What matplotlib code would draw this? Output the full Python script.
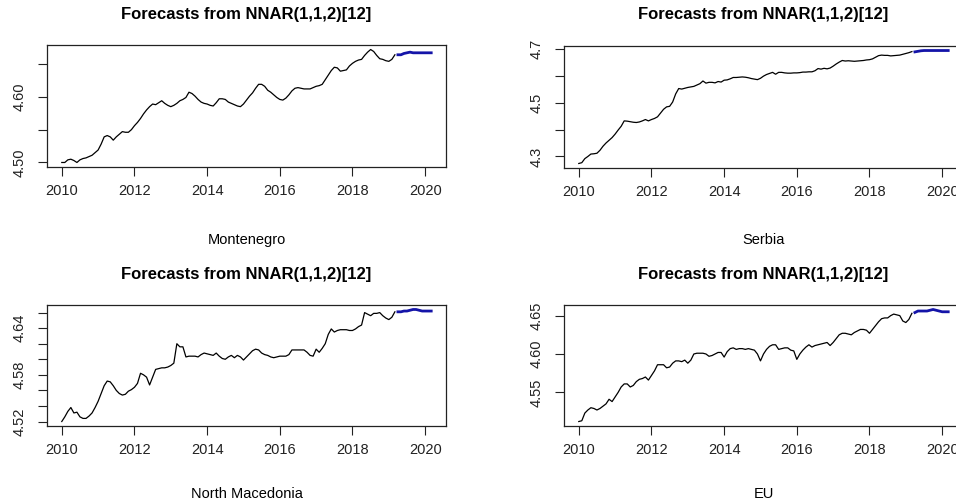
import numpy as np
import matplotlib
matplotlib.use("Agg")
import matplotlib.pyplot as plt

plt.rcParams['font.family'] = ['Liberation Sans', 'DejaVu Sans']

# monthly series, Jan 2010 - Mar 2019, then 12 month forecast
start_year = 2010
freq = 12
title = "Forecasts from NNAR(1,1,2)[12]"
countries = ["Montenegro", "Serbia", "North Macedonia", "EU"]

montenegro = [
    4.500, 4.500, 4.504, 4.505, 4.503, 4.500, 4.504, 4.506, 4.507, 4.509, 4.511, 4.515,
    4.519, 4.528, 4.539, 4.541, 4.539, 4.534, 4.539, 4.543, 4.547, 4.546, 4.546, 4.550,
    4.556, 4.561, 4.567, 4.574, 4.580, 4.585, 4.589, 4.588, 4.591, 4.594, 4.590, 4.587,
    4.585, 4.587, 4.590, 4.594, 4.596, 4.599, 4.607, 4.605, 4.601, 4.596, 4.592, 4.590,
    4.589, 4.587, 4.586, 4.591, 4.597, 4.597, 4.596, 4.592, 4.590, 4.588, 4.586, 4.585,
    4.589, 4.595, 4.601, 4.606, 4.613, 4.619, 4.619, 4.616, 4.610, 4.607, 4.603, 4.599,
    4.596, 4.595, 4.598, 4.603, 4.609, 4.613, 4.614, 4.613, 4.612, 4.612, 4.612, 4.614,
    4.616, 4.617, 4.619, 4.626, 4.633, 4.640, 4.645, 4.644, 4.639, 4.640, 4.641, 4.647,
    4.651, 4.654, 4.656, 4.657, 4.663, 4.668, 4.672, 4.669, 4.663, 4.658, 4.657, 4.655,
    4.654, 4.657, 4.664,
]
montenegro_fc = [4.664, 4.664, 4.666, 4.667, 4.668, 4.667, 4.667, 4.667, 4.667, 4.667, 4.667, 4.667]

serbia = [
    4.274, 4.277, 4.292, 4.300, 4.309, 4.310, 4.312, 4.323, 4.338, 4.350, 4.360, 4.370,
    4.383, 4.398, 4.412, 4.432, 4.431, 4.429, 4.427, 4.426, 4.428, 4.432, 4.437, 4.432,
    4.437, 4.441, 4.447, 4.461, 4.475, 4.484, 4.486, 4.502, 4.532, 4.552, 4.550, 4.553,
    4.556, 4.558, 4.560, 4.565, 4.570, 4.580, 4.572, 4.575, 4.575, 4.573, 4.578, 4.576,
    4.583, 4.584, 4.588, 4.593, 4.593, 4.594, 4.595, 4.594, 4.592, 4.589, 4.587, 4.585,
    4.590, 4.598, 4.604, 4.608, 4.612, 4.605, 4.612, 4.612, 4.610, 4.609, 4.609, 4.610,
    4.610, 4.611, 4.613, 4.613, 4.614, 4.614, 4.618, 4.626, 4.624, 4.627, 4.625, 4.628,
    4.635, 4.643, 4.650, 4.656, 4.654, 4.655, 4.654, 4.653, 4.654, 4.655, 4.656, 4.658,
    4.659, 4.662, 4.668, 4.674, 4.676, 4.675, 4.675, 4.673, 4.674, 4.675, 4.676, 4.679,
    4.682, 4.685, 4.689,
]
serbia_fc = [4.688, 4.690, 4.692, 4.693, 4.693, 4.693, 4.693, 4.693, 4.693, 4.693, 4.693, 4.693]

north_macedonia = [
    4.520, 4.526, 4.533, 4.538, 4.531, 4.532, 4.526, 4.524, 4.524, 4.527, 4.531, 4.538,
    4.546, 4.556, 4.566, 4.572, 4.571, 4.566, 4.560, 4.556, 4.554, 4.555, 4.559, 4.561,
    4.564, 4.569, 4.582, 4.580, 4.577, 4.567, 4.577, 4.587, 4.588, 4.589, 4.589, 4.590,
    4.592, 4.595, 4.620, 4.616, 4.616, 4.603, 4.604, 4.604, 4.604, 4.603, 4.606, 4.608,
    4.607, 4.606, 4.605, 4.608, 4.604, 4.601, 4.600, 4.603, 4.605, 4.602, 4.605, 4.603,
    4.599, 4.603, 4.607, 4.611, 4.613, 4.612, 4.608, 4.606, 4.605, 4.603, 4.602, 4.603,
    4.604, 4.604, 4.604, 4.606, 4.612, 4.612, 4.612, 4.612, 4.612, 4.609, 4.605, 4.604,
    4.613, 4.609, 4.614, 4.620, 4.632, 4.639, 4.635, 4.637, 4.638, 4.638, 4.638, 4.637,
    4.637, 4.639, 4.642, 4.644, 4.660, 4.658, 4.656, 4.659, 4.659, 4.660, 4.656, 4.653,
    4.651, 4.654, 4.661,
]
north_macedonia_fc = [4.661, 4.661, 4.662, 4.662, 4.663, 4.664, 4.664, 4.663, 4.662, 4.662, 4.662, 4.662]

eu = [
    4.512, 4.513, 4.523, 4.527, 4.530, 4.529, 4.527, 4.529, 4.532, 4.535, 4.541, 4.538,
    4.544, 4.550, 4.557, 4.561, 4.561, 4.557, 4.559, 4.564, 4.567, 4.568, 4.570, 4.566,
    4.572, 4.578, 4.586, 4.586, 4.586, 4.582, 4.583, 4.588, 4.591, 4.591, 4.590, 4.592,
    4.588, 4.592, 4.600, 4.601, 4.601, 4.601, 4.600, 4.597, 4.598, 4.600, 4.602, 4.602,
    4.596, 4.603, 4.607, 4.608, 4.606, 4.607, 4.607, 4.606, 4.607, 4.606, 4.605, 4.600,
    4.591, 4.600, 4.606, 4.610, 4.612, 4.612, 4.606, 4.607, 4.608, 4.608, 4.605, 4.604,
    4.593, 4.600, 4.605, 4.609, 4.612, 4.609, 4.611, 4.612, 4.613, 4.614, 4.615, 4.611,
    4.615, 4.620, 4.625, 4.627, 4.627, 4.626, 4.625, 4.628, 4.630, 4.632, 4.632, 4.631,
    4.627, 4.632, 4.637, 4.642, 4.646, 4.647, 4.647, 4.650, 4.652, 4.651, 4.650, 4.643,
    4.641, 4.645, 4.653,
]
eu_fc = [4.654, 4.656, 4.656, 4.656, 4.656, 4.657, 4.658, 4.657, 4.656, 4.655, 4.655, 4.655]

x_ticks = [2010, 2012, 2014, 2016, 2018, 2020]

# y ticks per panel, and which of them R managed to label
y_ticks = [
    [4.50, 4.55, 4.60, 4.65],
    [4.3, 4.4, 4.5, 4.6, 4.7],
    [4.52, 4.54, 4.56, 4.58, 4.60, 4.62, 4.64, 4.66],
    [4.55, 4.60, 4.65],
]
y_labels = [
    ["4.50", "", "4.60", ""],
    ["4.3", "", "4.5", "", "4.7"],
    ["4.52", "", "", "4.58", "", "", "4.64", ""],
    ["4.55", "4.60", "4.65"],
]

history = [montenegro, serbia, north_macedonia, eu]
forecast = [montenegro_fc, serbia_fc, north_macedonia_fc, eu_fc]

W, H = 956, 504
fig = plt.figure(figsize=(W / 100, H / 100), dpi=100)

# panel boxes in pixels: left, top, right, bottom
# (right column runs past the figure edge, as in the original export)
boxes = [(47, 45, 446, 167), (564, 46, 963, 168),
         (47, 305, 446, 426), (564, 305, 963, 426)]
title_y = [14, 14, 275, 275]
sub_y = [240, 240, 494, 494]

for i in range(4):
    l, t, r, b = boxes[i]
    ax = fig.add_axes([l / W, 1 - b / H, (r - l) / W, (b - t) / H])
    hist = np.array(history[i])
    fc = np.array(forecast[i])
    th = start_year + np.arange(len(hist)) / freq
    tf = start_year + np.arange(len(hist), len(hist) + len(fc)) / freq

    ax.plot(th, hist, color='black', lw=0.9)
    ax.plot(tf, fc, color='#1414a8', lw=2.0)

    # R style 4% padding
    xmin, xmax = th[0], tf[-1]
    allv = np.concatenate([hist, fc])
    ymin, ymax = allv.min(), allv.max()
    ax.set_xlim(xmin - 0.04 * (xmax - xmin), xmax + 0.04 * (xmax - xmin))
    ax.set_ylim(ymin - 0.04 * (ymax - ymin), ymax + 0.04 * (ymax - ymin))

    ax.set_xticks(x_ticks)
    ax.set_xticklabels([str(v) for v in x_ticks])
    ax.set_yticks(y_ticks[i])
    ax.set_yticklabels(y_labels[i], rotation=90, va='center')
    ax.tick_params(axis='both', length=6.5, width=0.8, labelsize=10.5,
                   colors='#222222', direction='out')
    ax.tick_params(axis='x', pad=6)
    ax.tick_params(axis='y', pad=8)
    for s in ax.spines.values():
        s.set_linewidth(0.9)
        s.set_color('#222222')

    cx = (l + r) / 2 / W
    fig.text(cx, 1 - title_y[i] / H, title, ha='center', va='center',
             fontsize=12, fontweight='bold')
    fig.text(cx, 1 - sub_y[i] / H, countries[i], ha='center', va='center',
             fontsize=10.5)

fig.savefig("out.png", dpi=100)
